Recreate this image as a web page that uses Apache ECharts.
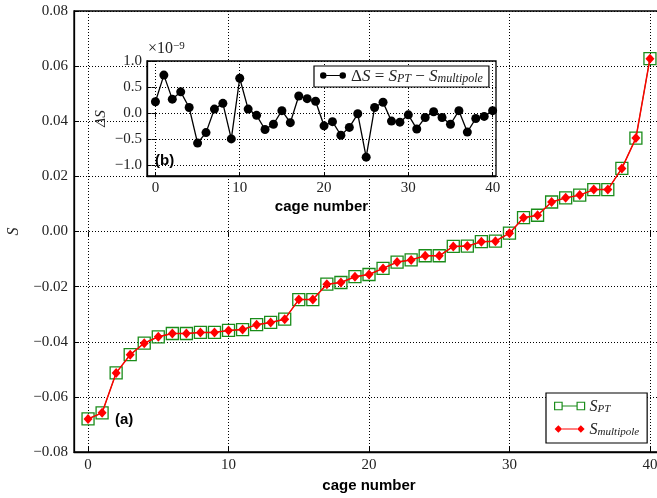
<!DOCTYPE html>
<html><head><meta charset="utf-8">
<script src="https://cdn.jsdelivr.net/npm/echarts@6/dist/echarts.min.js"></script>
<style>html,body{margin:0;padding:0;background:#fff}#c{width:657px;height:498px}</style>
</head><body><div id="c"></div>
<script>
// ---- data ----
const cageNumbers = Array.from({length: 41}, (_, i) => i);
const S_PT = [-0.0680,-0.0658,-0.0513,-0.0447,-0.0405,-0.0382,-0.0370,-0.0370,-0.0366,-0.0366,
  -0.0359,-0.0356,-0.0338,-0.0330,-0.0318,-0.0247,-0.0247,-0.0191,-0.0185,-0.0164,
  -0.0156,-0.0134,-0.0111,-0.0103,-0.0088,-0.0088,-0.0054,-0.0053,-0.0037,-0.0035,
  -0.0006,0.0050,0.0059,0.0107,0.0122,0.0132,0.0152,0.0152,0.0229,0.0339,0.0627];
// Delta S in units of 1e-9
const deltaS = [0.22,0.73,0.27,0.41,0.11,-0.57,-0.37,0.08,0.19,-0.49,
  0.67,0.08,-0.04,-0.31,-0.21,0.05,-0.18,0.33,0.28,0.23,
  -0.24,-0.16,-0.42,-0.27,-0.01,-0.84,0.11,0.21,-0.15,-0.17,
  -0.03,-0.30,-0.08,0.03,-0.08,-0.21,0.05,-0.36,-0.10,-0.06,0.05];
const S_multipole = S_PT.map((v, i) => v - deltaS[i] * 1e-9);
const mainXTicks = [0, 10, 20, 30, 40];
const mainYTicks = [-0.08, -0.06, -0.04, -0.02, 0.00, 0.02, 0.04, 0.06, 0.08];
const insetYTicks = [-1.0, -0.5, 0.0, 0.5, 1.0];

const SERIF = 'Liberation Serif';
const SANS = 'Liberation Sans';
const minus = s => s.replace('-', '\u2212');

const chart = echarts.init(document.getElementById('c'), null, {renderer: 'canvas'});
const dotted = {color: '#000', width: 1, type: [1, 2]};
const tickIn = (len, vals) => {
  const t = {show: true, inside: true, length: len, lineStyle: {color: '#000', width: 1}};
  if (vals) t.customValues = vals;
  return t;
};

const subRich = {
  i: {fontFamily: SERIF, fontStyle: 'italic', fontSize: 16, color: '#222', verticalAlign: 'bottom', lineHeight: 18},
  u: {fontFamily: SERIF, fontSize: 16, color: '#222', verticalAlign: 'bottom', lineHeight: 18},
  s: {fontFamily: SERIF, fontStyle: 'italic', fontSize: 11, color: '#222', verticalAlign: 'bottom', lineHeight: 14}
};

chart.setOption({
  animation: false,
  backgroundColor: '#fff',
  grid: [
    {left: 74, top: 11, width: 590, bottom: 46, outerBoundsMode: 'none', containLabel: false,
     show: true, borderColor: '#000', borderWidth: 1.3, backgroundColor: '#fff', z: 0},
    {left: 147, top: 61, width: 349, height: 115, outerBoundsMode: 'none', containLabel: false,
     show: true, borderColor: '#000', borderWidth: 1.3, backgroundColor: '#fff', z: 10}
  ],
  xAxis: [
    {gridIndex: 0, type: 'value', min: -1, max: 41, z: 1,
     axisLine: {show: true, onZero: false, lineStyle: {color: '#000', width: 1.3}},
     axisTick: tickIn(5, mainXTicks),
     axisLabel: {margin: 6, fontFamily: SERIF, fontSize: 15, color: '#222', customValues: mainXTicks,
       formatter: v => String(v)},
     splitLine: {show: true, lineStyle: dotted},
     name: 'cage number', nameLocation: 'middle', nameGap: 24,
     nameTextStyle: {fontFamily: SANS, fontWeight: 'bold', fontSize: 15, color: '#000'}},
    {gridIndex: 0, type: 'value', position: 'top', min: -1, max: 41, z: 1,
     axisLine: {show: false}, axisTick: tickIn(5, mainXTicks), axisLabel: {show: false}, splitLine: {show: false}},
    {gridIndex: 1, type: 'value', min: -1, max: 40.4, z: 11,
     axisLine: {show: true, onZero: false, lineStyle: {color: '#000', width: 1.3}},
     axisTick: tickIn(4, mainXTicks),
     axisLabel: {margin: 5, fontFamily: SERIF, fontSize: 15, color: '#222', customValues: mainXTicks,
       formatter: v => String(v)},
     splitLine: {show: true, lineStyle: dotted},
     name: 'cage number', nameLocation: 'middle', nameGap: 23,
     nameTextStyle: {fontFamily: SANS, fontWeight: 'bold', fontSize: 15, color: '#000'}},
    {gridIndex: 1, type: 'value', position: 'top', min: -1, max: 40.4, z: 11,
     axisLine: {show: false}, axisTick: tickIn(4, mainXTicks), axisLabel: {show: false}, splitLine: {show: false}}
  ],
  yAxis: [
    {gridIndex: 0, type: 'value', min: -0.08, max: 0.08, interval: 0.02, z: 1,
     axisLine: {show: true, onZero: false, lineStyle: {color: '#000', width: 1.3}},
     axisTick: tickIn(5),
     axisLabel: {margin: 6, fontFamily: SERIF, fontSize: 15, color: '#222',
       formatter: v => minus(v.toFixed(2))},
     splitLine: {show: true, lineStyle: dotted},
     name: 'S', nameLocation: 'middle', nameGap: 52, nameRotate: 90,
     nameTextStyle: {fontFamily: SERIF, fontStyle: 'italic', fontSize: 16, color: '#222'}},
    {gridIndex: 1, type: 'value', min: -1.2, max: 1.0, z: 11,
     axisLine: {show: true, onZero: false, lineStyle: {color: '#000', width: 1.3}},
     axisTick: tickIn(4, insetYTicks),
     axisLabel: {margin: 5, fontFamily: SERIF, fontSize: 15, color: '#222', customValues: insetYTicks,
       formatter: v => minus(v.toFixed(1))},
     splitLine: {show: true, lineStyle: dotted},
     name: '\u0394S', nameLocation: 'middle', nameGap: 38, nameRotate: 90, nameMoveOverlap: false,
     nameTextStyle: {fontFamily: SERIF, fontStyle: 'italic', fontSize: 15, color: '#222'}},
    {gridIndex: 1, type: 'value', position: 'right', min: -1.2, max: 1.0, z: 11,
     axisLine: {show: false}, axisTick: tickIn(4, insetYTicks), axisLabel: {show: false}, splitLine: {show: false}}
  ],
  legend: [
    {orient: 'vertical', left: 546, top: 393, z: 20,
     backgroundColor: '#fff', borderColor: '#000', borderWidth: 1.2, borderRadius: 0,
     padding: [6, 8, 5, 8], itemGap: 7, itemWidth: 30, itemHeight: 10,
     data: [
       {name: 'S_PT', icon: 'path://M0,0L10,0L10,10L0,10Z M30,0L40,0L40,10L30,10Z M10,5L30,5',
        itemStyle: {color: 'rgba(0,0,0,0)', borderColor: '#1a8c1a', borderWidth: 1.2}},
       {name: 'S_multipole', icon: 'path://M0,5L5,0L10,5L5,10Z M30,5L35,0L40,5L35,10Z M10,4.4L30,4.4L30,5.6L10,5.6Z',
        itemStyle: {color: '#f00', borderWidth: 0}}
     ],
     formatter: n => n === 'S_PT' ? '{i|S}{s|PT}' : '{i|S}{s|multipole}',
     textStyle: {rich: subRich}},
    {orient: 'horizontal', left: 314, top: 66, z: 30,
     backgroundColor: '#fff', borderColor: '#000', borderWidth: 1.2, borderRadius: 0,
     padding: [2, 6, 2, 6], itemWidth: 26, itemHeight: 10, itemGap: 8,
     data: [{name: 'dS', icon: 'path://M0,5A5,5,0,1,1,10,5A5,5,0,1,1,0,5Z M30,5A5,5,0,1,1,40,5A5,5,0,1,1,30,5Z M10,4.3L30,4.3L30,5.7L10,5.7Z',
       itemStyle: {color: '#000', borderWidth: 0}}],
     formatter: () => '{u|\u0394}{i|S}{u| = }{i|S}{s|PT}{u| \u2212 }{i|S}{s|multipole}',
     textStyle: {rich: {
       i: {fontFamily: SERIF, fontStyle: 'italic', fontSize: 17, color: '#222', verticalAlign: 'bottom', lineHeight: 19},
       u: {fontFamily: SERIF, fontSize: 17, color: '#222', verticalAlign: 'bottom', lineHeight: 19},
       s: {fontFamily: SERIF, fontStyle: 'italic', fontSize: 12, color: '#222', verticalAlign: 'bottom', lineHeight: 15}
     }}}
  ],
  graphic: [
    {type: 'text', left: 148, top: 41, z: 40,
     style: {text: '\u00d710{p|\u22129}', fill: '#222', font: '16px "Liberation Serif"',
       rich: {p: {fontSize: 11, fontFamily: SERIF, verticalAlign: 'top', fill: '#222'}}}},
    {type: 'text', left: 155, top: 153, z: 40,
     style: {text: '(b)', fill: '#000', font: 'bold 15px "Liberation Sans"'}},
    {type: 'text', left: 115, top: 412, z: 40,
     style: {text: '(a)', fill: '#000', font: 'bold 15px "Liberation Sans"'}}
  ],
  series: [
    {name: 'S_PT', type: 'line', xAxisIndex: 0, yAxisIndex: 0, z: 3,
     data: cageNumbers.map((x, i) => [x, S_PT[i]]),
     symbol: 'rect', symbolSize: 12, showAllSymbol: true,
     lineStyle: {color: '#1a8c1a', width: 1},
     itemStyle: {color: 'rgba(0,0,0,0)', borderColor: '#1a8c1a', borderWidth: 1.3}},
    {name: 'S_multipole', type: 'line', xAxisIndex: 0, yAxisIndex: 0, z: 4,
     data: cageNumbers.map((x, i) => [x, S_multipole[i]]),
     symbol: 'diamond', symbolSize: [9, 10], showAllSymbol: true,
     lineStyle: {color: '#f00', width: 1.5},
     itemStyle: {color: '#f00', borderWidth: 0}},
    {name: 'dS', type: 'line', xAxisIndex: 2, yAxisIndex: 1, z: 15,
     data: cageNumbers.map((x, i) => [x, deltaS[i]]),
     symbol: 'circle', symbolSize: 9, showAllSymbol: true,
     lineStyle: {color: '#000', width: 1.3},
     itemStyle: {color: '#000', borderWidth: 0}}
  ]
});
</script></body></html>
